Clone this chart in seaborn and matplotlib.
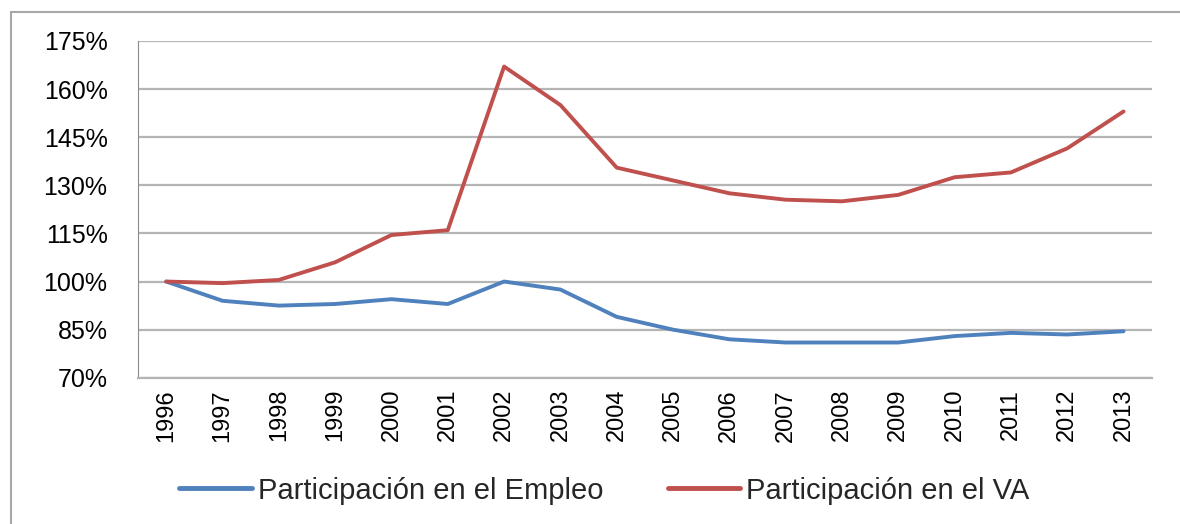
import numpy as np
import pandas as pd
import matplotlib.pyplot as plt
import seaborn as sns
from matplotlib.ticker import FixedLocator, FuncFormatter

years = [str(y) for y in range(1996, 2014)]
empleo = [100, 94, 92.5, 93, 94.5, 93, 100, 97.5, 89, 85, 82, 81, 81, 81, 83, 84, 83.5, 84.5]
va = [100, 99.5, 100.5, 106, 114.5, 116, 167, 155, 135.5, 131.5, 127.5, 125.5, 125, 127, 132.5, 134, 141.5, 153]
series_names = ["Participación en el Empleo", "Participación en el VA"]
colors = ["#4F81BD", "#C0504D"]

df = pd.DataFrame({
    "year": years * 2,
    "value": empleo + va,
    "serie": [series_names[0]] * len(years) + [series_names[1]] * len(years),
})

sns.set_style("white")
plt.rcParams["font.family"] = ["Liberation Sans", "DejaVu Sans"]

fig = plt.figure(figsize=(11.8, 5.24), dpi=100)
ax = fig.add_axes([0.117, 0.279, 0.859, 0.643])

sns.lineplot(data=df, x="year", y="value", hue="serie", palette=colors,
             linewidth=2.8, ax=ax, sort=False)

ax.set_xlim(-0.5, len(years) - 0.5)
ax.set_ylim(70, 175)
ax.set_yticks(np.arange(70, 176, 15))
ax.yaxis.set_major_formatter(FuncFormatter(lambda v, _: f"{v:.0f}%"))
ax.grid(axis="y", color="#B5B5B5", linewidth=1.6)
ax.set_axisbelow(True)

ax.set_xticks(range(len(years)))
ax.set_xticklabels(years, rotation=90, fontsize=17, color="black")
ax.xaxis.set_minor_locator(FixedLocator(np.arange(-0.5, len(years), 1)))
ax.tick_params(axis="x", which="major", length=0, pad=8)
ax.tick_params(axis="x", which="minor", length=7, color="#8C8C8C", width=1.2, direction="out")
ax.tick_params(axis="y", length=12, color="#B5B5B5", width=1.6, labelsize=18,
               labelcolor="black", pad=10)

for s in ["top", "right"]:
    ax.spines[s].set_visible(False)
ax.spines["left"].set_color("#8C8C8C")
ax.spines["bottom"].set_color("#B5B5B5")
ax.spines["bottom"].set_linewidth(1.6)
ax.set_xlabel("")
ax.set_ylabel("")

ax.legend(loc="center", bbox_to_anchor=(0.46, -0.335), ncol=2, frameon=False,
          fontsize=21, handlelength=2.5, columnspacing=2.2, handletextpad=0.2)
for line in ax.get_legend().get_lines():
    line.set_linewidth(3.5)

fig.patches.append(plt.Rectangle((0.009, -0.05), 1.05, 1.027, transform=fig.transFigure,
                                 fill=False, edgecolor="#A8A8A8", linewidth=1.5))

fig.savefig("out.png", dpi=100)
